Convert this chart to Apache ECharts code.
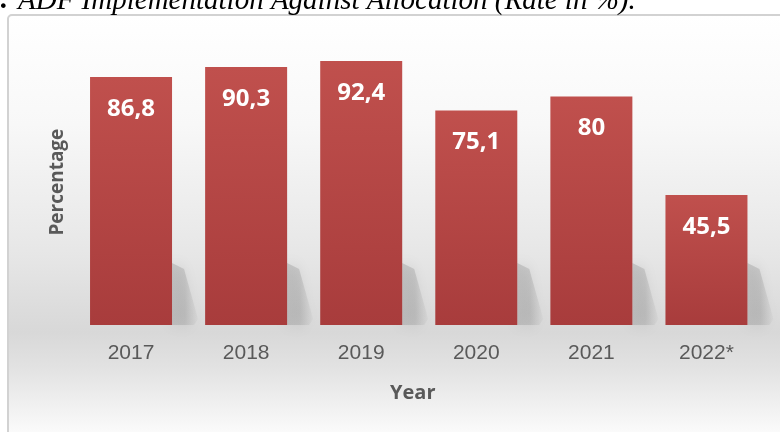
<!DOCTYPE html>
<html>
<head>
<meta charset="utf-8">
<style>
html,body{margin:0;padding:0;background:#fff;}
#c{width:780px;height:432px;}
</style>
<script src="https://cdn.jsdelivr.net/npm/echarts@6/dist/echarts.min.js"></script>
</head>
<body>
<div id="c"></div>
<script>
const categories = ['2017', '2018', '2019', '2020', '2021', '2022*'];
const values = [86.8, 90.3, 92.4, 75.1, 80, 45.5];
const xAxisTitle = 'Year';
const yAxisTitle = 'Percentage';
const captionNumber = '2.';
const captionText = 'ADF Implementation Against Allocation (Rate in %).';

const chart = echarts.init(document.getElementById('c'), null, {renderer: 'canvas'});

function renderShadow(params, api) {
  const base = api.coord([api.value(0), 0]);
  const half = 41;
  const xr = base[0] + half;
  const yb = base[1];
  return {
    type: 'polygon',
    silent: true,
    shape: {points: [[xr, yb - 62], [xr + 12, yb - 56], [xr + 26, yb - 6], [xr + 22, yb], [xr, yb]]},
    style: {
      fill: {
        type: 'linear', x: 0, y: 0, x2: 1, y2: 0,
        colorStops: [
          {offset: 0, color: 'rgba(140,140,140,0.35)'},
          {offset: 0.5, color: 'rgba(140,140,140,0.3)'},
          {offset: 1, color: 'rgba(140,140,140,0.05)'}
        ]
      },
      shadowBlur: 14,
      shadowColor: 'rgba(130,130,130,0.6)'
    }
  };
}

const option = {
  animation: false,
  graphic: [
    {
      type: 'rect', z: -10, silent: true,
      shape: {x: 8, y: 15, width: 790, height: 440, r: 4},
      style: {
        stroke: '#d2d2d2', lineWidth: 2,
        fill: {
          type: 'linear', x: 0, y: 0, x2: 0, y2: 1,
          colorStops: [
            {offset: 0, color: '#ffffff'},
            {offset: 0.25, color: '#f8f8f8'},
            {offset: 0.55, color: '#e6e6e6'},
            {offset: 0.72, color: '#d8d8d8'},
            {offset: 0.8, color: '#e2e2e2'},
            {offset: 0.95, color: '#fbfbfb'},
            {offset: 1, color: '#ffffff'}
          ]
        }
      }
    },
    {
      type: 'text', silent: true,
      style: {x: 8, y: 1, text: captionNumber, align: 'right', verticalAlign: 'middle',
        font: 'italic bold 29px "Liberation Serif"', fill: '#000'}
    },
    {
      type: 'text', silent: true,
      style: {x: 18, y: 1, text: captionText, align: 'left', verticalAlign: 'middle',
        font: 'italic 29px "Liberation Serif"', fill: '#000'}
    }
  ],
  grid: {left: 73.5, right: 16, top: 39.3, bottom: 107},
  xAxis: {
    type: 'category',
    data: categories,
    axisLine: {show: false},
    axisTick: {show: false},
    axisLabel: {color: '#595959', fontSize: 21, fontFamily: '"Liberation Sans"', margin: 18},
    name: xAxisTitle,
    nameLocation: 'middle',
    nameGap: 58,
    nameTextStyle: {color: '#595959', fontSize: 20, fontWeight: 'bold', fontFamily: '"Open Sans"', padding: [0, 12, 0, 0]}
  },
  yAxis: {
    type: 'value',
    min: 0, max: 100,
    axisLine: {show: false},
    axisTick: {show: false},
    axisLabel: {show: false},
    splitLine: {show: false},
    name: yAxisTitle,
    nameLocation: 'middle',
    nameRotate: 90,
    nameGap: 6,
    nameTextStyle: {color: '#595959', fontSize: 19, fontWeight: 'bold', fontFamily: '"Open Sans"'}
  },
  series: [
    {
      type: 'custom',
      z: 1,
      data: values.map((v, i) => [i, v]),
      renderItem: renderShadow,
      clip: false
    },
    {
      type: 'bar',
      z: 2,
      data: values,
      barWidth: 82,
      itemStyle: {
        color: {
          type: 'linear', x: 0, y: 0, x2: 0, y2: 1,
          colorStops: [
            {offset: 0, color: '#c0504d'},
            {offset: 1, color: '#a83c3c'}
          ]
        }
      },
      label: {
        show: true,
        position: 'insideTop',
        distance: 20,
        color: '#ffffff',
        fontSize: 24,
        fontWeight: 'bold',
        fontFamily: '"Open Sans"',
        formatter: p => String(p.value).replace('.', ',')
      }
    }
  ]
};
chart.setOption(option);
</script>
</body>
</html>
